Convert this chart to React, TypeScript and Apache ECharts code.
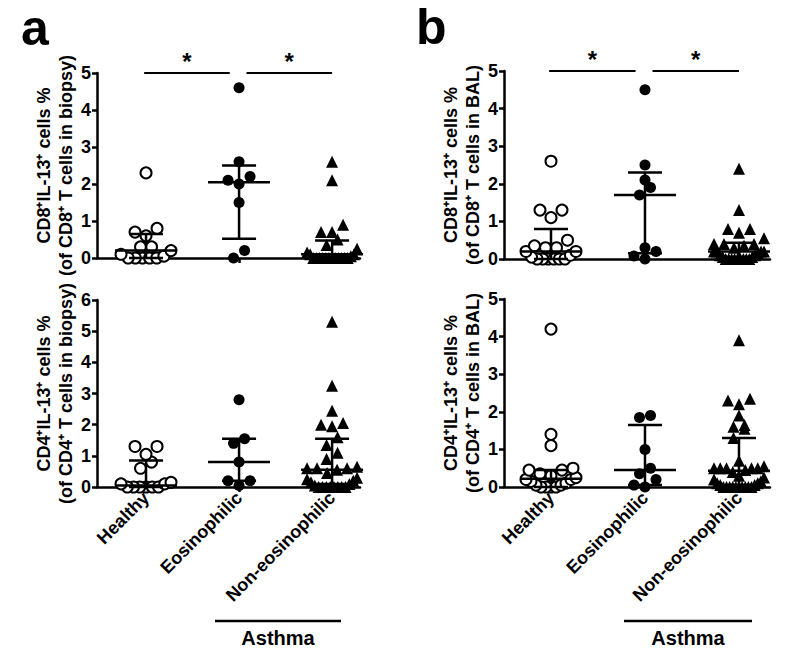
import React, { useEffect, useRef } from "react";
import * as echarts from "echarts";

const categories = ["Healthy", "Eosinophilic", "Non-eosinophilic"];

// Panel a, top: CD8+IL-13+ in biopsy
const biopsyCD8Healthy = [2.3, 0.8, 0.7, 0.6, 0.3, 0.3, 0.2, 0.1, 0.05, 0, 0, 0, 0, 0];
const biopsyCD8Eos = [4.6, 2.6, 2.2, 2.1, 2.0, 1.5, 0.2, 0];
const biopsyCD8NonEos = [2.6, 2.1, 0.9, 0.7, 0.7, 0.5, 0.35, 0.25, 0.15, 0.1, 0.1, 0.05, 0, 0, 0, 0, 0, 0, 0, 0, 0, 0, 0, 0];
const biopsyCD8Median = [0.2, 2.05, 0.1];
const biopsyCD8Q1 = [0, 0.52, 0];
const biopsyCD8Q3 = [0.65, 2.5, 0.47];

// Panel a, bottom: CD4+IL-13+ in biopsy
const biopsyCD4Healthy = [1.3, 1.3, 1.05, 0.8, 0.6, 0.15, 0.1, 0.1, 0, 0, 0, 0, 0, 0];
const biopsyCD4Eos = [2.8, 1.55, 1.4, 0.8, 0.2, 0.2, 0.05];
const biopsyCD4NonEos = [5.3, 3.25, 2.45, 2.05, 2.0, 1.95, 1.6, 1.35, 1.1, 0.9, 0.65, 0.6, 0.6, 0.55, 0.6, 0.45, 0.3, 0.25, 0.2, 0.15, 0.1, 0.05, 0, 0, 0, 0, 0, 0, 0, 0];
const biopsyCD4Median = [0.05, 0.8, 0.55];
const biopsyCD4Q1 = [0, 0.2, 0.1];
const biopsyCD4Q3 = [0.85, 1.55, 1.55];

// Panel b, top: CD8+IL-13+ in BAL
const balCD8Healthy = [2.6, 1.3, 1.3, 1.1, 0.5, 0.35, 0.3, 0.3, 0.2, 0.2, 0.1, 0.05, 0, 0, 0, 0, 0, 0];
const balCD8Eos = [4.5, 2.5, 2.1, 1.9, 1.7, 0.3, 0.2, 0.08, 0];
const balCD8NonEos = [2.4, 1.3, 0.8, 0.8, 0.7, 0.55, 0.4, 0.4, 0.4, 0.35, 0.3, 0.2, 0.2, 0.2, 0.2, 0.15, 0.1, 0.1, 0.05, 0.05, 0, 0, 0, 0, 0, 0, 0, 0, 0];
const balCD8Median = [0.2, 1.7, 0.2];
const balCD8Q1 = [0, 0.15, 0.05];
const balCD8Q3 = [0.8, 2.3, 0.43];

// Panel b, bottom: CD4+IL-13+ in BAL
const balCD4Healthy = [4.2, 1.4, 1.1, 0.5, 0.45, 0.45, 0.35, 0.3, 0.25, 0.2, 0.2, 0.15, 0.1, 0.05, 0.05, 0, 0, 0, 0];
const balCD4Eos = [1.9, 1.85, 1.0, 0.5, 0.35, 0.2, 0.05, 0];
const balCD4NonEos = [3.9, 2.35, 2.3, 2.2, 1.9, 1.65, 1.6, 1.55, 1.3, 0.7, 0.55, 0.5, 0.5, 0.5, 0.5, 0.5, 0.45, 0.4, 0.3, 0.25, 0.2, 0.15, 0.1, 0.1, 0.05, 0.05, 0, 0, 0, 0, 0, 0, 0, 0, 0, 0];
const balCD4Median = [0.22, 0.45, 0.43];
const balCD4Q1 = [0, 0.05, 0.05];
const balCD4Q3 = [0.45, 1.65, 1.3];

const yTicksTopA = [0, 1, 2, 3, 4, 5];
const yTicksBottomA = [0, 1, 2, 3, 4, 5, 6];
const yTicksB = [0, 1, 2, 3, 4, 5];

const sigPairs = [[0, 1], [1, 2]];
const sigLevel = 5;

const FONT = "'Liberation Sans', Arial, Helvetica, sans-serif";

type Panel = {
  grid: { left: number; top: number; width: number; height: number };
  xMin: number;
  xMax: number;
  yMax: number;
  groups: number[][];
  median: number[];
  q1: number[];
  q3: number[];
  name: string;
  showLabels: boolean;
  sig: boolean;
};

const panels: Panel[] = [
  {
    grid: { left: 97, top: 73, width: 263, height: 185 },
    xMin: -0.527, xMax: 2.3, yMax: yTicksTopA[yTicksTopA.length - 1],
    groups: [biopsyCD8Healthy, biopsyCD8Eos, biopsyCD8NonEos],
    median: biopsyCD8Median, q1: biopsyCD8Q1, q3: biopsyCD8Q3,
    name: "CD8⁺IL-13⁺ cells %\n(of CD8⁺ T cells in biopsy)",
    showLabels: false, sig: true,
  },
  {
    grid: { left: 97, top: 300, width: 263, height: 187 },
    xMin: -0.527, xMax: 2.3, yMax: yTicksBottomA[yTicksBottomA.length - 1],
    groups: [biopsyCD4Healthy, biopsyCD4Eos, biopsyCD4NonEos],
    median: biopsyCD4Median, q1: biopsyCD4Q1, q3: biopsyCD4Q3,
    name: "CD4⁺IL-13⁺ cells %\n(of CD4⁺ T cells in biopsy)",
    showLabels: true, sig: false,
  },
  {
    grid: { left: 504, top: 71, width: 266, height: 188 },
    xMin: -0.5, xMax: 2.33, yMax: yTicksB[yTicksB.length - 1],
    groups: [balCD8Healthy, balCD8Eos, balCD8NonEos],
    median: balCD8Median, q1: balCD8Q1, q3: balCD8Q3,
    name: "CD8⁺IL-13⁺ cells %\n(of CD8⁺ T cells in BAL)",
    showLabels: false, sig: true,
  },
  {
    grid: { left: 504, top: 299, width: 266, height: 188 },
    xMin: -0.5, xMax: 2.33, yMax: yTicksB[yTicksB.length - 1],
    groups: [balCD4Healthy, balCD4Eos, balCD4NonEos],
    median: balCD4Median, q1: balCD4Q1, q3: balCD4Q3,
    name: "CD4⁺IL-13⁺ cells %\n(of CD4⁺ T cells in BAL)",
    showLabels: true, sig: false,
  },
];

// GraphPad-like column scatter: bin values into rows, spread each row centred.
function swarm(values: number[], cx: number, pxX: number, pxY: number, d: number, maxW: number) {
  const sorted = values.slice().sort((a, b) => a - b);
  const rows: number[][] = [];
  let start = -Infinity;
  for (const v of sorted) {
    if ((v - start) * pxY >= d * 0.95 || rows.length === 0) {
      rows.push([v]);
      start = v;
    } else {
      rows[rows.length - 1].push(v);
    }
  }
  const out: number[][] = [];
  for (const row of rows) {
    const n = row.length;
    const s = n > 1 ? Math.min(d, maxW / (n - 1)) : 0;
    const offs: number[] = [];
    for (let i = 0; i < n; i++) offs.push((i - (n - 1) / 2) * s);
    offs.sort((a, b) => Math.abs(a) - Math.abs(b) || a - b);
    row.forEach((v, i) => out.push([cx + offs[i] / pxX, v]));
  }
  return out;
}

export default function App() {
  const ref = useRef<HTMLDivElement>(null);
  useEffect(() => {
    if (!ref.current) return;
    const chart = echarts.init(ref.current, null, { renderer: "svg" });
    const grids: any[] = [];
    const xAxes: any[] = [];
    const yAxes: any[] = [];
    const series: any[] = [];
    const axisLine = { show: true, onZero: false, lineStyle: { color: "#000", width: 2.5 } };
    const axisTick = { show: true, length: 5, lineStyle: { color: "#000", width: 2.5 } };

    panels.forEach((p, i) => {
      grids.push({ ...p.grid, containLabel: false });
      xAxes.push({
        type: "value", gridIndex: i, min: p.xMin, max: p.xMax,
        axisLine,
        axisTick: { ...axisTick, customValues: [0, 1, 2] },
        axisLabel: {
          show: p.showLabels, customValues: [0, 1, 2], rotate: 45, margin: 8,
          formatter: (v: number) => categories[Math.round(v)] ?? "",
          color: "#000", fontSize: 18, fontWeight: "bold", fontFamily: FONT,
        },
        splitLine: { show: false },
      });
      yAxes.push({
        type: "value", gridIndex: i, min: 0, max: p.yMax, interval: 1,
        axisLine, axisTick,
        axisLabel: { color: "#000", fontSize: 18, fontWeight: "bold", fontFamily: FONT, margin: 6 },
        splitLine: { show: false },
        name: p.name, nameLocation: "middle", nameRotate: 90, nameGap: 9,
        nameTextStyle: { color: "#000", fontSize: 18, fontWeight: "bold", fontFamily: FONT, lineHeight: 22 },
      });
      const pxX = p.grid.width / (p.xMax - p.xMin);
      const pxY = p.grid.height / p.yMax;
      const styles = [
        { symbol: "circle", symbolSize: 11, itemStyle: { color: "#fff", borderColor: "#000", borderWidth: 2, opacity: 1 } },
        { symbol: "circle", symbolSize: 11, itemStyle: { color: "#000", opacity: 1 } },
        { symbol: "triangle", symbolSize: 12, itemStyle: { color: "#000", opacity: 1 } },
      ];
      p.groups.forEach((vals, g) => {
        const s: any = {
          type: "scatter", xAxisIndex: i, yAxisIndex: i, name: categories[g],
          data: swarm(vals, g, pxX, pxY, 11, 50), clip: false, z: 2,
          ...styles[g],
        };
        if (g === 0 && p.sig) {
          s.markLine = {
            symbol: "none", silent: true, animation: false,
            lineStyle: { color: "#000", width: 1.8, type: "solid", opacity: 1 },
            label: { show: true, formatter: "*", position: "middle", color: "#000", fontSize: 24, fontWeight: "bold", fontFamily: FONT, distance: 0 },
            data: sigPairs.map(([a, b]) => [
              { coord: [a - 0.02 + (a > 0 ? 0.1 : 0), sigLevel] },
              { coord: [b - 0.1 + (b === 2 ? 0.1 : 0), sigLevel] },
            ]),
          };
        }
        series.push(s);
      });
      series.push({
        type: "custom", xAxisIndex: i, yAxisIndex: i, z: 3, clip: false,
        data: p.median.map((m, g) => [g, m, p.q1[g], p.q3[g]]),
        renderItem: (params: any, api: any) => {
          const x = api.value(0);
          const pm = api.coord([x, api.value(1)]);
          const p1 = api.coord([x, api.value(2)]);
          const p3 = api.coord([x, api.value(3)]);
          const style = { stroke: "#000", lineWidth: 2.5, fill: null };
          return {
            type: "group",
            children: [
              { type: "line", shape: { x1: pm[0] - 31, y1: pm[1], x2: pm[0] + 31, y2: pm[1] }, style },
              { type: "line", shape: { x1: p3[0] - 17, y1: p3[1], x2: p3[0] + 17, y2: p3[1] }, style },
              { type: "line", shape: { x1: p1[0] - 17, y1: p1[1], x2: p1[0] + 17, y2: p1[1] }, style },
              { type: "line", shape: { x1: pm[0], y1: p1[1], x2: pm[0], y2: p3[1] }, style },
            ],
          };
        },
      });
    });

    const graphic: any[] = [
      { type: "text", left: 21, top: 3, style: { text: "a", font: `bold 50px ${FONT}`, fill: "#000" } },
      { type: "text", left: 416, top: 2, style: { text: "b", font: `bold 50px ${FONT}`, fill: "#000" } },
      { type: "line", shape: { x1: 215, y1: 621, x2: 341, y2: 621 }, style: { stroke: "#000", lineWidth: 2.5 } },
      { type: "text", x: 278, y: 638, style: { text: "Asthma", font: `bold 20px ${FONT}`, fill: "#000", align: "center", verticalAlign: "middle" } },
      { type: "line", shape: { x1: 624, y1: 621, x2: 752, y2: 621 }, style: { stroke: "#000", lineWidth: 2.5 } },
      { type: "text", x: 688, y: 638, style: { text: "Asthma", font: `bold 20px ${FONT}`, fill: "#000", align: "center", verticalAlign: "middle" } },
    ];

    chart.setOption({
      animation: false,
      backgroundColor: "#fff",
      grid: grids,
      xAxis: xAxes,
      yAxis: yAxes,
      series,
      graphic,
    });
    return () => chart.dispose();
  }, []);
  return <div ref={ref} style={{ position: "fixed", left: 0, top: 0, width: 800, height: 657 }} />;
}
